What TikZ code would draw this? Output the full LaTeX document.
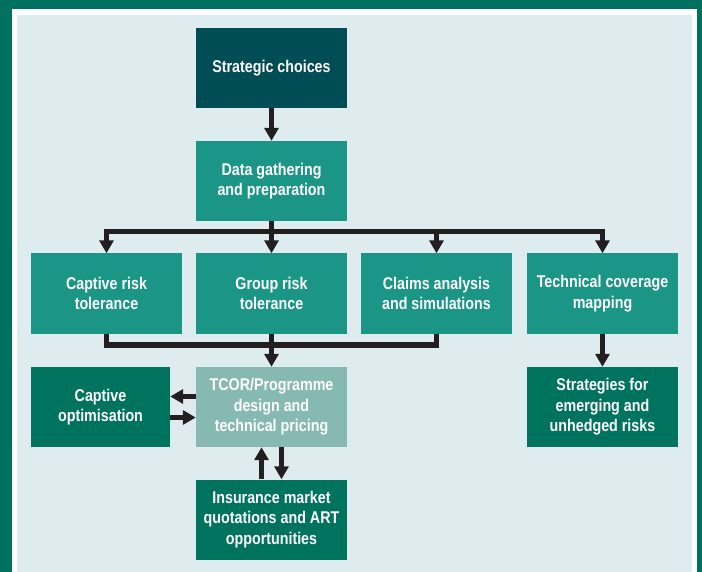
\documentclass[tikz,border=0pt]{standalone}
\usepackage{fontspec}
\setmainfont{Liberation Sans}[FakeStretch=0.84]
\usetikzlibrary{arrows.meta}
\definecolor{framegreen}{HTML}{00705F}
\definecolor{bgblue}{HTML}{DEECF0}
\definecolor{darkteal}{HTML}{004D55}
\definecolor{midteal}{HTML}{1B9585}
\definecolor{lightteal}{HTML}{86B9B1}
\definecolor{darkgreen}{HTML}{00735F}
\definecolor{arrowblack}{HTML}{231F20}
\tikzset{
  box/.style={fill=#1, draw=none, text=white, minimum width=151pt, minimum height=80pt,
    inner sep=0pt, align=center, font=\fontsize{17}{20.5}\selectfont\bfseries},
  ln/.style={draw=arrowblack, line width=5.5pt, line join=miter},
  arr/.style={ln, -{Triangle[width=14pt,length=13pt]}}
}
\begin{document}
\begin{tikzpicture}[x=1pt,y=-1pt]
\useasboundingbox (0,0) rectangle (702,572);
\fill[framegreen] (0,0) rectangle (702,572);
\fill[white] (11.5,9) rectangle (697,572);
\fill[bgblue] (17,15) rectangle (692,572);

\node[box=darkteal] (strat) at (271.5,68) {Strategic choices};
\node[box=midteal] (data) at (271.5,181) {Data gathering\\and preparation};
\node[box=midteal] (captiverisk) at (106.5,293.5) {Captive risk\\tolerance};
\node[box=midteal] (group) at (271.5,293.5) {Group risk\\tolerance};
\node[box=midteal] (claims) at (436.5,293.5) {Claims analysis\\and simulations};
\node[box=midteal] (techcov) at (602.5,293.5) {Technical coverage\\mapping};
\node[box=darkgreen, minimum width=139pt] (captopt) at (100.5,407) {Captive\\optimisation};
\node[box=lightteal] (tcor) at (271.5,407) {TCOR/Programme\\design and\\technical pricing};
\node[box=darkgreen] (strategies) at (602.5,407) {Strategies for\\emerging and\\unhedged risks};
\node[box=darkgreen] (insurance) at (271.5,519.5) {Insurance market\\quotations and ART\\opportunities};

\coordinate (bus) at (0,231.5);
\coordinate (bustwo) at (0,345);

\draw[arr] (strat) -- (data);
\draw[ln] (data.south) -- (data.south |- bus);
\draw[ln, line cap=rect] (captiverisk.north |- bus) -- (techcov.north |- bus);
\draw[arr] (captiverisk.north |- bus) -- (captiverisk.north);
\draw[arr] (group.north |- bus) -- (group.north);
\draw[arr] (claims.north |- bus) -- (claims.north);
\draw[arr] (techcov.north |- bus) -- (techcov.north);

\draw[ln] (captiverisk.south) -- (captiverisk.south |- bustwo) -- (claims.south |- bustwo) -- (claims.south);
\draw[arr] (group.south) -- (tcor.north);

\draw[arr] ([yshift=10.5pt]tcor.west) -- ([yshift=10.5pt]captopt.east);
\draw[arr] ([yshift=-10.5pt]captopt.east) -- ([yshift=-10.5pt]tcor.west);
\draw[arr] ([xshift=-10pt]insurance.north) -- ([xshift=-10pt]tcor.south);
\draw[arr] ([xshift=10pt]tcor.south) -- ([xshift=10pt]insurance.north);

\draw[arr] (techcov) -- (strategies);
\end{tikzpicture}
\end{document}
